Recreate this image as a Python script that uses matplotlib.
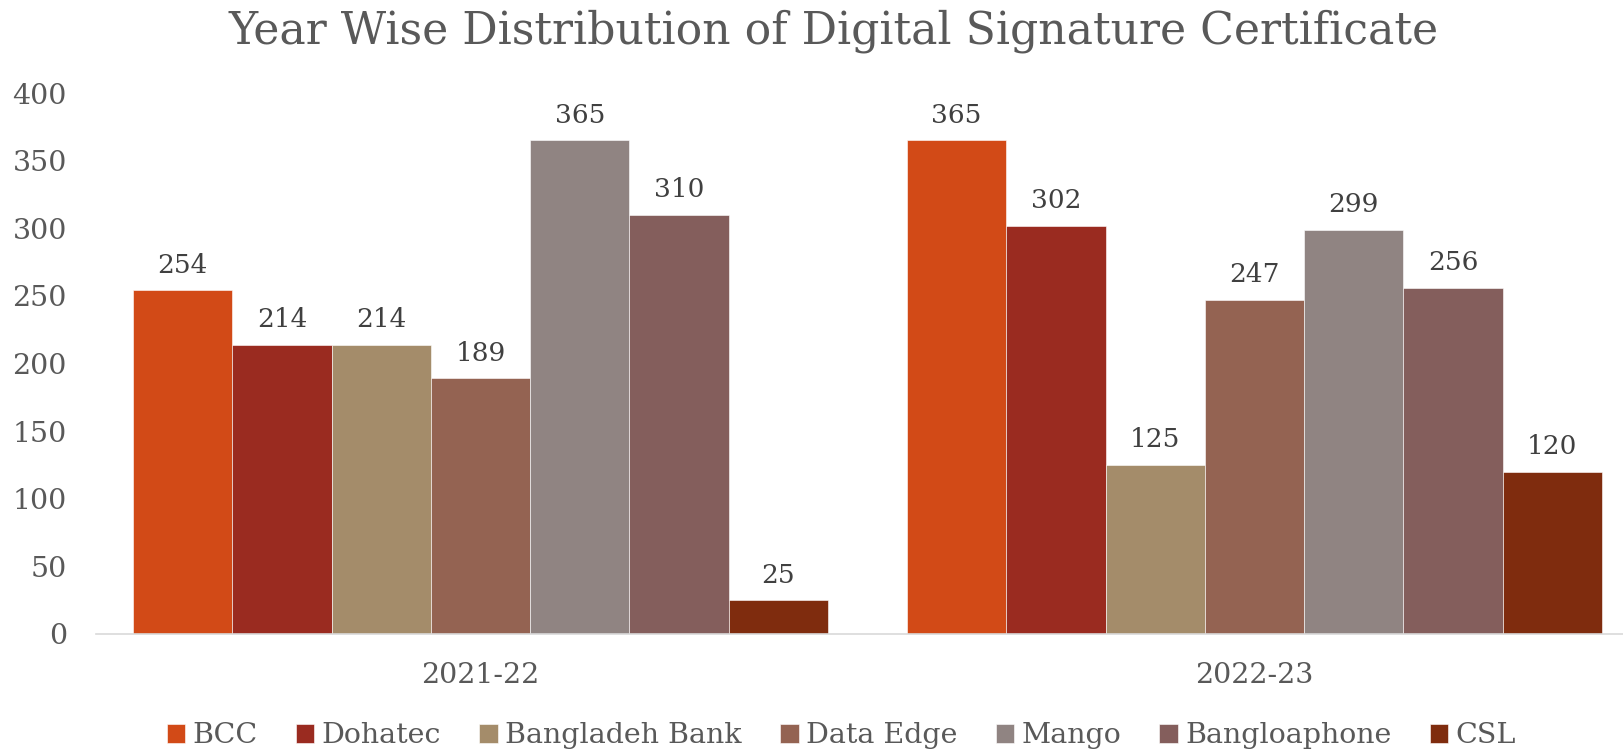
import matplotlib.pyplot as plt
import numpy as np

years = ['2021-22', '2022-23']
providers = ['BCC', 'Dohatec', 'Bangladeh Bank', 'Data Edge', 'Mango', 'Bangloaphone', 'CSL']
values_2021 = [254, 214, 214, 189, 365, 310, 25]
values_2022 = [365, 302, 125, 247, 299, 256, 120]
colors = ['#D24A17', '#9A2B20', '#A48C6A', '#946352', '#908482', '#845E5C', '#7F2C0E']

plt.rcParams['font.family'] = ['DejaVu Serif']

fig = plt.figure(figsize=(16.24, 7.54), dpi=100)
# axis line runs off the right edge, like in the source picture
ax = fig.add_axes([96 / 1624, 1 - 634 / 754, 1 - 96 / 1624, (634 - 93) / 754])

n = len(providers)
x = np.arange(len(years))
group = 0.898
w = group / n
for i, name in enumerate(providers):
    vals = [values_2021[i], values_2022[i]]
    pos = x - group / 2 + w * (i + 0.5)
    bars = ax.bar(pos, vals, width=w, color=colors[i], edgecolor='#ffffff',
                  linewidth=0.4, label=name)
    for b, v in zip(bars, vals):
        ax.annotate(str(v), (b.get_x() + b.get_width() / 2, v),
                    xytext=(0, 9), textcoords='offset points',
                    ha='center', va='bottom', fontsize=19, color='#404040')

ax.set_xlim((96 - 480.5) / 774, (1624 - 480.5) / 774)
ax.set_ylim(0, 400)
ax.set_yticks(range(0, 401, 50))
ax.set_xticks(x)
ax.set_xticklabels(years)
ax.tick_params(axis='both', length=0, labelsize=20.5, labelcolor='#595959')
ax.tick_params(axis='x', pad=20)
ax.tick_params(axis='y', pad=21)
for s in ['top', 'right', 'left']:
    ax.spines[s].set_visible(False)
ax.spines['bottom'].set_color('#D9D9D9')
ax.spines['bottom'].set_linewidth(1.2)

fig.text(0.513, 1 - 31 / 754, 'Year Wise Distribution of Digital Signature Certificate',
         fontsize=31.8, color='#595959', ha='center', va='center')

leg = fig.legend(loc='center', bbox_to_anchor=(0.518, 0.024), ncol=7,
                 frameon=False, fontsize=20.5, handlelength=0.65, handleheight=0.65,
                 handletextpad=0.25, columnspacing=1.35)
for t in leg.get_texts():
    t.set_color('#595959')

fig.savefig('out.png', dpi=100)
